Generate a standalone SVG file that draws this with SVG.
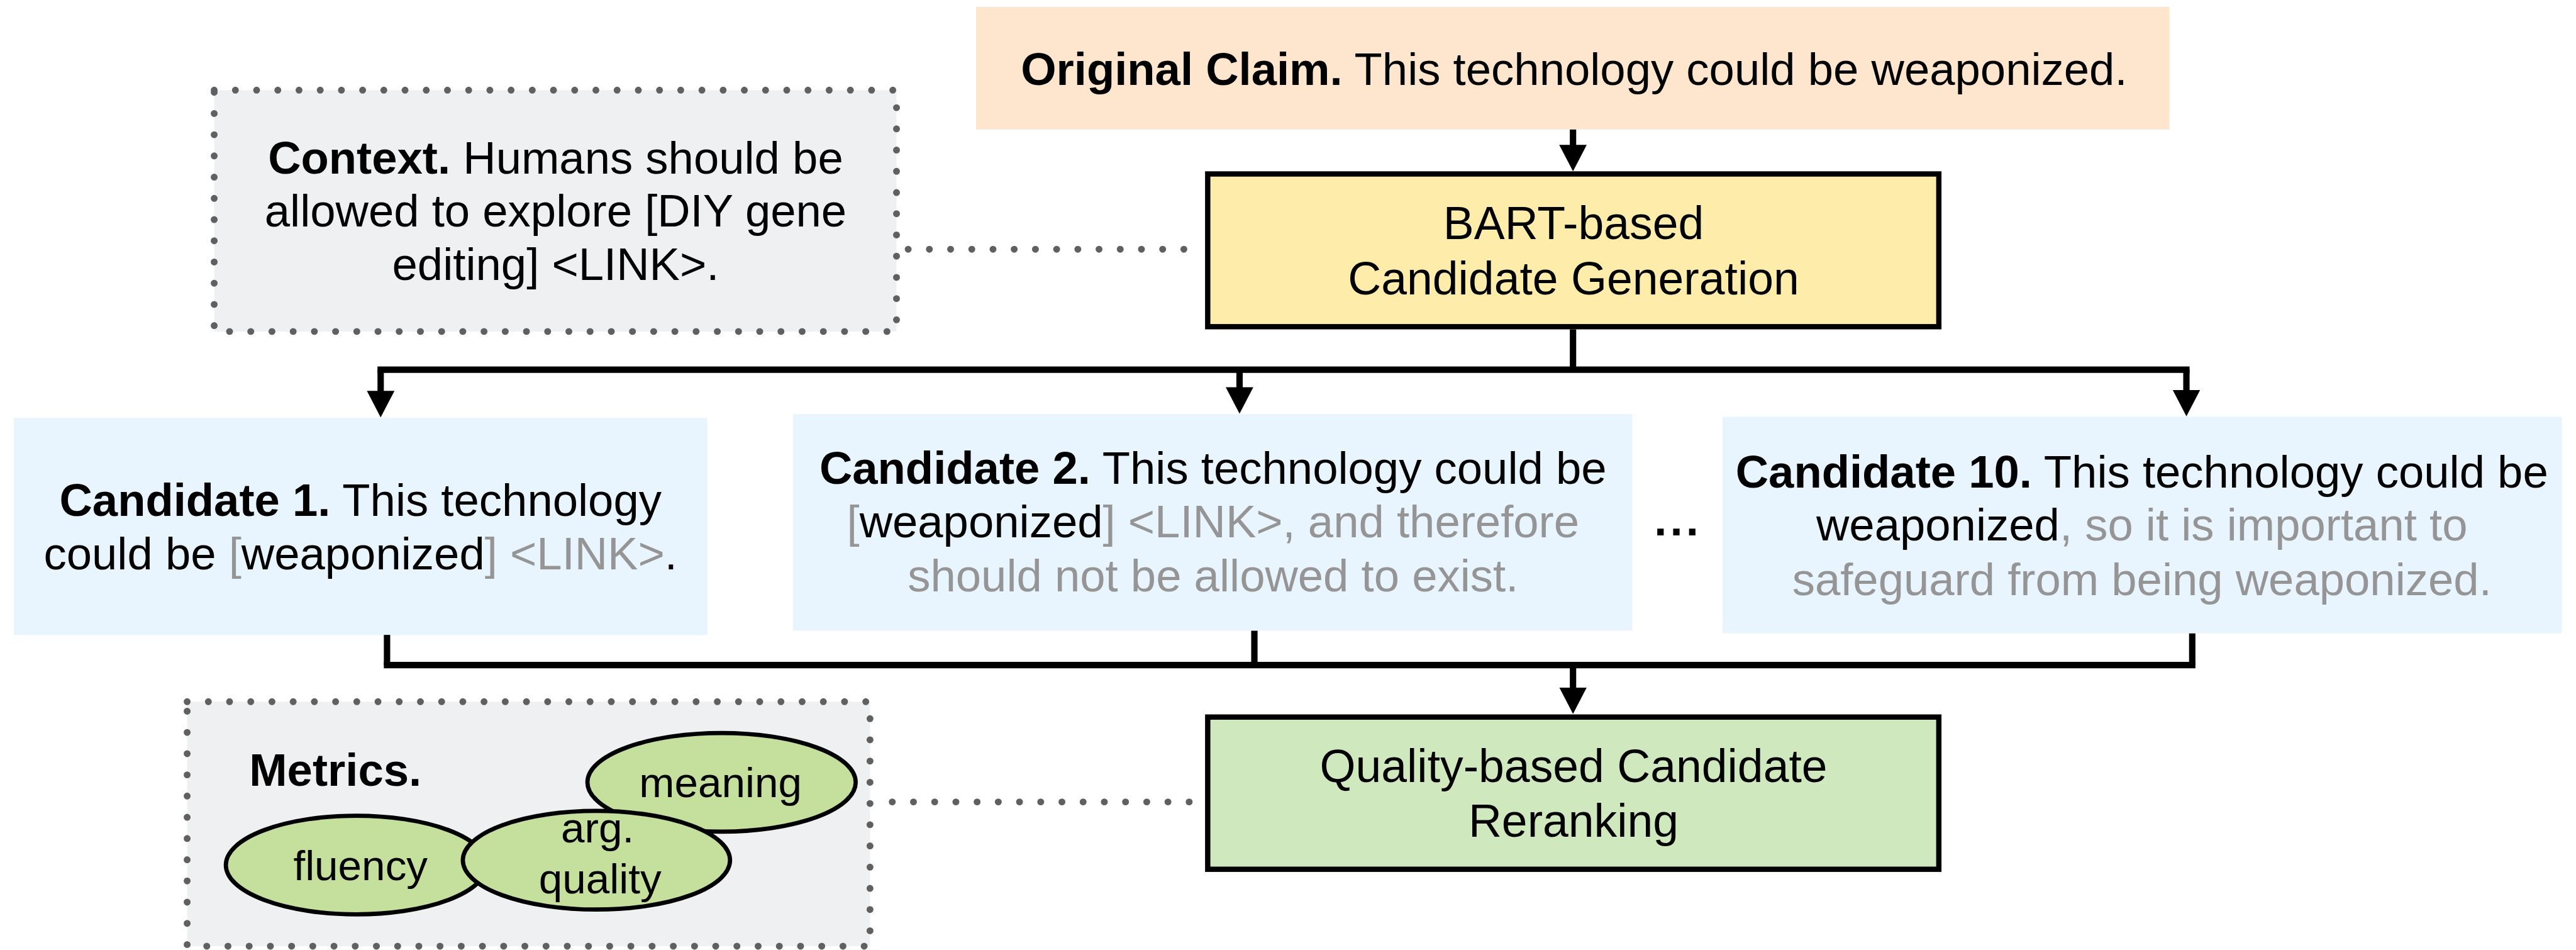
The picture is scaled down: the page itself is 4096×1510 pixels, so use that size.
<svg xmlns="http://www.w3.org/2000/svg" width="4096" height="1510" viewBox="0 0 4096 1510">
<defs>
<style>
text{font-family:"Liberation Sans",Arial,Helvetica,sans-serif;fill:#000;}
.t{font-size:86px;text-anchor:middle;}
.h{font-size:87px;text-anchor:middle;}
.e{font-size:80px;text-anchor:middle;}
.b{font-weight:bold;}
.g{fill:#959595;}
.dot{fill:none;stroke:#606060;stroke-width:13;stroke-dasharray:0 40;stroke-linecap:round;}
.ln{fill:none;stroke:#000;stroke-width:12;}
.box{stroke:#000;stroke-width:10;}
.ell{fill:#C5DF9C;stroke:#000;stroke-width:8;}
</style>
<marker id="ah" markerUnits="userSpaceOnUse" viewBox="0 0 50 52" refX="1" refY="26" markerWidth="50" markerHeight="52" orient="auto">
<path d="M0,0 L50,26 L0,52 Z" fill="#000"/>
</marker>
</defs>
<g transform="scale(0.843)">
<g id="context">
<rect x="404" y="170" width="1287" height="455" fill="#EFF0F2"/>
<rect x="404" y="170" width="1287" height="455" class="dot"/>
<text class="t"><tspan x="1048" y="327"><tspan class="b">Context.</tspan> Humans should be</tspan><tspan x="1048" y="427">allowed to explore [DIY gene</tspan><tspan x="1048" y="528">editing] &lt;LINK&gt;.</tspan></text>
</g>
<g id="metrics">
<rect x="353" y="1323" width="1288" height="461" fill="#EFF0F2"/>
<rect x="353" y="1323" width="1288" height="461" class="dot"/>
<text x="470" y="1482" class="b" style="font-size:86px">Metrics.</text>
<g id="m-meaning"><ellipse cx="1361" cy="1475" rx="253" ry="93" class="ell"/><text x="1359" y="1503" class="e">meaning</text></g>
<g id="m-fluency"><ellipse cx="672" cy="1631" rx="246" ry="93" class="ell"/><text x="680" y="1660" class="e">fluency</text></g>
<g id="m-argq"><ellipse cx="1125" cy="1622" rx="252" ry="93" class="ell"/><text class="e"><tspan x="1127" y="1588">arg.</tspan><tspan x="1132" y="1685">quality</tspan></text></g>
</g>
<g id="connectors">
<path d="M2967,244 V274" class="ln" marker-end="url(#ah)"/>
<path d="M2967,621 V697" class="ln"/>
<path d="M718,697 H4124" class="ln" stroke-linecap="square"/>
<path d="M718,697 V738" class="ln" marker-end="url(#ah)"/>
<path d="M2338,697 V731" class="ln" marker-end="url(#ah)"/>
<path d="M4124,697 V736" class="ln" marker-end="url(#ah)"/>
<path d="M730,1197 V1254" class="ln"/>
<path d="M2366,1189 V1254" class="ln"/>
<path d="M4135,1194 V1254" class="ln"/>
<path d="M730,1254 H4135" class="ln" stroke-linecap="square"/>
<path d="M2967,1254 V1297" class="ln" marker-end="url(#ah)"/>
<path d="M1713,470 H2245" class="dot"/>
<path d="M1683,1512 H2245" class="dot"/>
</g>
<g id="claim">
<rect x="1841" y="13" width="2251" height="231" fill="#FEE5CD"/>
<text x="2969" y="160" class="t"><tspan class="b">Original Claim.</tspan> This technology could be weaponized.</text>
</g>
<g id="bart">
<rect x="2278" y="328" width="1379" height="288" fill="#FEEDAA" class="box"/>
<text class="h"><tspan x="2968" y="451">BART-based</tspan><tspan x="2968" y="555">Candidate Generation</tspan></text>
</g>
<g id="cand1">
<rect x="26" y="788" width="1308" height="409" fill="#E8F4FE"/>
<text class="t"><tspan x="680" y="973"><tspan class="b">Candidate 1.</tspan> This technology</tspan><tspan x="680" y="1073">could be <tspan class="g">[</tspan>weaponized<tspan class="g">] &lt;LINK&gt;</tspan>.</tspan></text>
</g>
<g id="cand2">
<rect x="1496" y="781" width="1583" height="408" fill="#E8F4FE"/>
<text class="t"><tspan x="2288" y="912"><tspan class="b">Candidate 2.</tspan> This technology could be</tspan><tspan x="2288" y="1013"><tspan class="g">[</tspan>weaponized<tspan class="g">] &lt;LINK&gt;, and therefore</tspan></tspan><tspan x="2288" y="1115" class="g">should not be allowed to exist.</tspan></text>
</g>
<g id="ellipsis">
<text x="3165" y="1009" class="t b" style="letter-spacing:6px">...</text>
</g>
<g id="cand10">
<rect x="3249" y="786" width="1583" height="408" fill="#E8F4FE"/>
<text class="t"><tspan x="4040" y="919"><tspan class="b">Candidate 10.</tspan> This technology could be</tspan><tspan x="4040" y="1019">weaponized<tspan class="g">, so it is important to</tspan></tspan><tspan x="4040" y="1122" class="g">safeguard from being weaponized.</tspan></text>
</g>
<g id="quality">
<rect x="2278" y="1352" width="1379" height="287" fill="#D0E8BD" class="box"/>
<text class="h"><tspan x="2968" y="1475">Quality-based Candidate</tspan><tspan x="2968" y="1578">Reranking</tspan></text>
</g>
</g>
</svg>
